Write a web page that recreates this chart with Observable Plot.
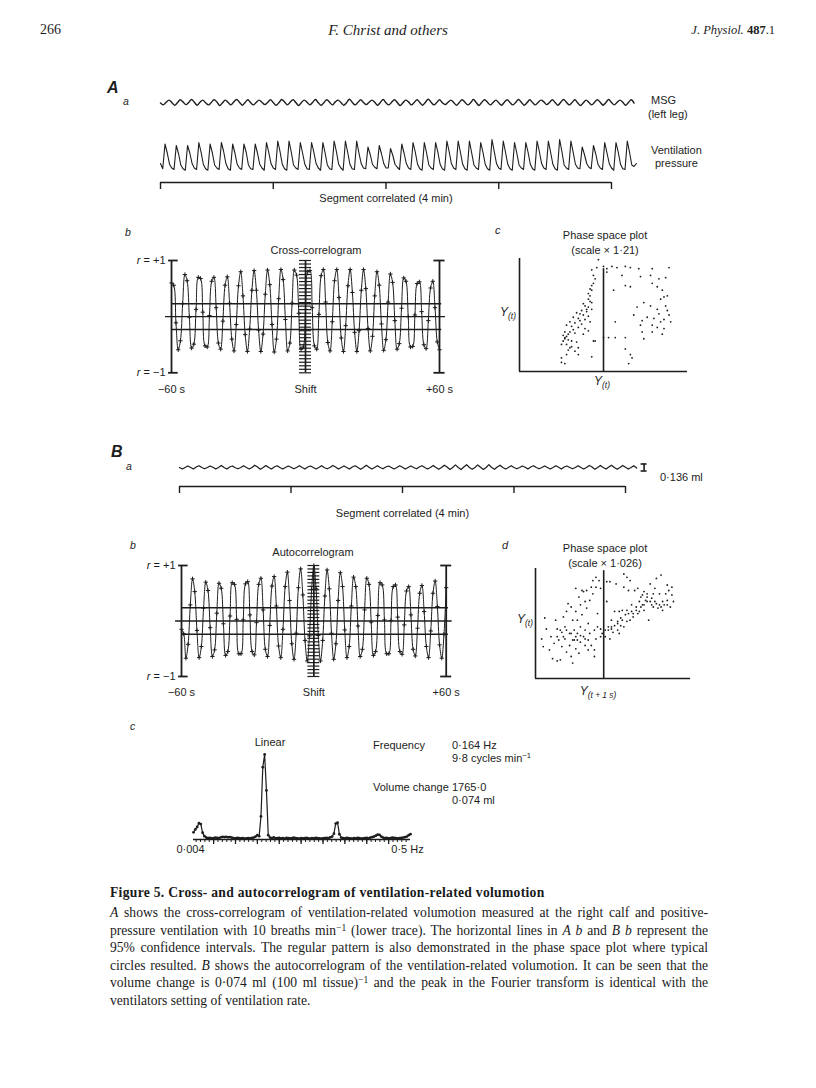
<!DOCTYPE html>
<html><head><meta charset="utf-8">
<script src="https://cdn.jsdelivr.net/npm/d3@7"></script>
<script src="https://cdn.jsdelivr.net/npm/@observablehq/plot@0.6"></script>
<style>
body{margin:0;background:#fff;}
#page{position:relative;width:816px;height:1088px;overflow:hidden;font-family:"Liberation Sans",Arial,sans-serif;color:#1d1d1d;background:#fff;}
.abs{position:absolute;white-space:nowrap;line-height:1;}
sub{font-size:0.7em;vertical-align:-0.3em;}
sup{font-size:0.7em;vertical-align:0.45em;}
.cap{position:absolute;left:110px;width:598px;font-family:"Liberation Serif","Times New Roman",serif;font-size:13.6px;line-height:1;white-space:nowrap;color:#1a1a1a;}
.just{text-align:justify;text-align-last:justify;}
</style></head><body><div id="page"></div>
<script>
// ---------------- DATA ----------------
// A a: MSG trace (arbitrary units), sampled every 1.5 s
const msgStep = 1.5;
const msgValues = [-0.2,
-0.8,0.1,0.8,0.0, -0.9,-0.1,0.9,0.2, -0.7,0.0,1.0,0.1, -0.9,0.1,0.8,-0.1, -0.8,0.0,0.9,0.2,
-1.0,-0.1,0.8,0.0, -0.8,0.2,1.0,0.1, -0.9,0.0,0.9,-0.1, -0.8,0.1,0.8,0.1, -0.7,0.0,0.9,0.0,
-0.9,-0.1,1.0,0.2, -0.8,0.1,0.9,0.0, -1.0,0.0,0.8,0.1, -0.8,0.1,1.0,-0.1, -0.9,0.0,0.9,0.1,
-0.8,0.2,0.8,0.0, -0.9,-0.1,1.1,0.1, -0.8,0.0,0.9,0.0, -0.7,0.1,0.8,0.1, -0.9,0.0,1.0,-0.1,
-0.8,0.1,0.9,0.0, -1.0,-0.1,0.8,0.2, -0.8,0.0,0.9,0.0, -0.9,0.1,1.1,0.1, -0.8,0.0,0.9,-0.1,
-0.7,0.1,0.8,0.0, -0.9,0.0,0.9,0.1, -0.8,-0.1,1.0,0.0, -1.0,0.1,0.9,0.1, -0.8,0.0,0.8,-0.1,
-0.9,0.1,0.9,0.0, -0.8,0.0,1.0,0.1, -0.9,-0.1,0.9,0.0, -0.8,0.1,0.8,0.2, -0.7,0.0,0.9,0.0,
-0.9,0.1,1.0,0.1, -0.8,0.0,0.9,-0.1, -1.0,-0.1,0.8,0.0, -0.8,0.1,0.9,0.1, -0.9,0.0,1.0,0.0,
-0.8,0.1,0.8,0.1, -0.9,0.0,0.9,-0.2];

// A a: ventilation pressure (arbitrary units), sampled every 1.2 s
const ventStep = 1.2;
const ventValues = [-0.4,
-0.75,0.9,0.3,-0.45,-0.7, -0.8,0.8,0.25,-0.5,-0.75, -0.85,0.8,0.3,-0.4,-0.7, -0.8,1.0,0.35,-0.45,-0.75,
-0.85,0.9,0.3,-0.5,-0.7, -0.8,1.0,0.4,-0.4,-0.75, -0.85,0.9,0.3,-0.45,-0.7, -0.8,0.9,0.35,-0.5,-0.75,
-0.8,0.9,0.3,-0.45,-0.7, -0.85,1.0,0.35,-0.4,-0.7, -0.8,1.1,0.4,-0.45,-0.75, -0.85,1.1,0.35,-0.5,-0.7,
-0.8,1.0,0.3,-0.45,-0.75, -0.8,1.0,0.35,-0.4,-0.7, -0.85,1.0,0.3,-0.5,-0.75, -0.8,1.1,0.4,-0.45,-0.7,
-0.85,1.1,0.35,-0.45,-0.75, -0.8,1.1,0.3,-0.4,-0.7, -0.75,0.7,0.2,-0.45,-0.65, -0.75,0.8,0.25,-0.4,-0.7,
-0.7,0.6,0.15,-0.45,-0.65, -0.8,0.9,0.3,-0.4,-0.7, -0.8,1.0,0.35,-0.45,-0.75, -0.85,1.0,0.3,-0.5,-0.7,
-0.8,1.0,0.35,-0.45,-0.75, -0.85,1.1,0.4,-0.4,-0.7, -0.8,1.1,0.35,-0.45,-0.75, -0.85,1.1,0.3,-0.5,-0.7,
-0.8,1.0,0.35,-0.45,-0.75, -0.85,1.2,0.4,-0.4,-0.7, -0.8,1.1,0.35,-0.45,-0.75, -0.85,1.0,0.3,-0.5,-0.7,
-0.8,1.0,0.35,-0.45,-0.75, -0.85,1.1,0.4,-0.4,-0.7, -0.8,1.1,0.35,-0.45,-0.75, -0.85,1.2,0.4,-0.5,-0.7,
-0.8,1.1,0.35,-0.45,-0.7, -0.75,0.7,0.2,-0.4,-0.65, -0.75,0.8,0.25,-0.45,-0.7, -0.8,1.0,0.3,-0.4,-0.7,
-0.85,1.0,0.35,-0.45,-0.75, -0.8,1.1,0.35,-0.5,-0.6, -0.4];

// Segment correlated (4 min) bracket ticks, seconds
const segTicks = [0, 60, 120, 180, 240];
const segLabel = "Segment correlated (4 min)";

// Correlograms: lag -60 … +60 s, 1 s apart
const lagMin = -60, lagMax = 60;
const crossCorr = [
 0.60, 0.56,-0.11,-0.59,-0.43, 0.23, 0.75, 0.64,-0.01,-0.56,
-0.49, 0.13, 0.70, 0.68, 0.08,-0.52,-0.54, 0.02, 0.63, 0.70,
 0.16,-0.47,-0.58,-0.08, 0.56, 0.71, 0.24,-0.40,-0.61,-0.14,
 0.55, 0.80, 0.37,-0.32,-0.62,-0.22, 0.47, 0.82, 0.47,-0.24,
-0.62,-0.31, 0.40, 0.83, 0.57,-0.14,-0.63,-0.40, 0.32, 0.84,
 0.66,-0.05,-0.61,-0.47, 0.24, 0.83, 0.74, 0.06,-0.58,-0.54,
 0.13, 0.80, 0.82, 0.16,-0.52,-0.58, 0.04, 0.73, 0.84, 0.26,
-0.46,-0.61,-0.09, 0.64, 0.84, 0.34,-0.38,-0.62,-0.16, 0.55,
 0.84, 0.43,-0.28,-0.62,-0.25, 0.47, 0.84, 0.50,-0.21,-0.61,
-0.35, 0.37, 0.80, 0.56,-0.13,-0.60,-0.41, 0.26, 0.76, 0.61,
-0.07,-0.58,-0.48, 0.15, 0.69, 0.63, 0.00,-0.54,-0.53, 0.03,
 0.59, 0.62, 0.09,-0.50,-0.57,-0.07, 0.51, 0.63, 0.16,-0.45,
-0.59];
const autoCorr = [
-0.15,-0.23,-0.67,-0.42, 0.29, 0.76, 0.53,-0.17,-0.66,-0.46,
 0.23, 0.70, 0.55,-0.12,-0.64,-0.52, 0.14, 0.68, 0.59,-0.05,
-0.62,-0.55, 0.09, 0.69, 0.66, 0.03,-0.59,-0.59, 0.02, 0.67,
 0.71, 0.11,-0.55,-0.61,-0.03, 0.66, 0.77, 0.20,-0.51,-0.64,
-0.08, 0.63, 0.80, 0.27,-0.45,-0.66,-0.15, 0.62, 0.88, 0.37,
-0.41,-0.69,-0.22, 0.60, 0.94, 0.47,-0.35,-0.72,-0.27, 0.57,
 1.00,
 0.58,-0.26,-0.72,-0.35, 0.45, 0.92, 0.58,-0.22,-0.69,-0.41,
 0.37, 0.87, 0.62,-0.16,-0.66,-0.46, 0.27, 0.79, 0.62,-0.09,
-0.64,-0.51, 0.20, 0.77, 0.66,-0.02,-0.62,-0.55, 0.10, 0.69,
 0.65, 0.02,-0.59,-0.59, 0.01, 0.62, 0.65, 0.07,-0.55,-0.60,
-0.07, 0.54, 0.62, 0.11,-0.51,-0.63,-0.13, 0.50, 0.64, 0.17,
-0.46,-0.66,-0.18, 0.50, 0.72, 0.26,-0.43,-0.67,-0.24, 0.60];
const ciCross = 0.23, ciAuto = 0.24;          // 95 % confidence limits
const rTicks = [-1, 1], rLabels = ["r = \u22121", "r = +1"];
const shiftTicks = [-60, 0, 60], shiftLabels = ["\u221260 s", "Shift", "+60 s"];
const ladderStep = 0.0625;

// A c: phase space plot (scale × 1·21)
const acX = [47,46,43,44,45,43,42,43,41,42, 41,42,43,39,41,43,37,40,34,36, 38,41,32,35,39,42,30,33,37,28,
 31,35,39,41,27,30,33,38,26,28, 27,29,31,34,25,28,31,35,29,33, 28,35,25,43,25,27,44,27,29,32, 36,40,38,44,30,26,
 50,52,55,58,63,66,71,79,89,52, 61,72,78,83,87,63,66,79,82,85, 56,88,86,74,78,87,88,70,68,83,
 89,73,80,84,90,57,72,79,82,86, 73,79,85,74,50,53,57,63,63,66, 65,67,45,84,82,86,76];
const acY = [99,92,90,85,82,76,73,72,69,67, 64,62,61,58,57,55,54,53,52,51, 50,49,48,47,46,44,44,43,42,41,
 40,39,38,36,35,35,34,33,32,31, 29,28,27,26,24,24,22,21,19,18, 15,15,12,13,8,7,27,30,33,37, 45,55,60,78,21,27,
 93,91,93,92,93,92,91,91,92,88, 85,84,85,82,83,76,75,78,75,72, 72,67,66,61,58,58,54,57,50,51,
 50,45,47,44,44,44,41,41,39,38, 35,35,33,29,30,30,30,30,20,15, 7,12,27,64,55,46,48];
const acMid = 50, acMidTop = 91;

// B a: volumotion trace (ml), sampled every 1.5 s
const baStep = 1.5;
const baValues = [0.0,
-0.03,0.00,0.03,0.00, -0.03,0.01,0.035,0.00, -0.025,0.00,0.03,0.005, -0.03,0.00,0.04,0.00, -0.03,0.01,0.03,-0.005,
-0.025,0.00,0.035,0.00, -0.03,0.00,0.045,0.01, -0.035,0.00,0.04,0.00, -0.03,0.01,0.035,0.00, -0.03,0.00,0.03,0.005,
-0.025,0.00,0.035,0.00, -0.03,0.01,0.03,0.00, -0.03,0.00,0.035,-0.005, -0.025,0.00,0.04,0.01, -0.03,0.00,0.03,0.00,
-0.03,0.01,0.035,0.00, -0.035,0.00,0.045,0.005, -0.03,0.00,0.035,0.00, -0.025,0.01,0.03,0.00, -0.03,0.00,0.035,0.005,
-0.03,0.00,0.03,0.00, -0.025,0.01,0.035,0.00, -0.03,0.00,0.04,0.00, -0.035,0.00,0.045,0.01, -0.04,0.00,0.05,0.00,
-0.04,0.01,0.055,0.00, -0.035,0.00,0.05,0.005, -0.04,0.00,0.055,0.00, -0.035,0.01,0.045,0.00, -0.03,0.00,0.035,0.00,
-0.025,0.00,0.03,0.005, -0.03,0.01,0.035,0.00, -0.025,0.00,0.03,0.00, -0.03,0.00,0.035,0.005, -0.03,0.01,0.03,0.00,
-0.025,0.00,0.035,0.00, -0.03,0.00,0.04,0.01, -0.035,0.00,0.04,0.00, -0.03,0.01,0.045,0.00, -0.035,0.00,0.04,0.005,
-0.03,0.00,0.035,-0.01];
const scaleBarMl = 0.136, scaleBarTime = 250;

// B d: phase space plot (scale × 1·026)
const bdX = [4,5,6,7,9,10,11,13,14,14, 15,16,17,17,18,19,19,20,20,21, 22,22,23,23,24,24,25,25,26,26,
 26,27,27,28,28,29,29,29,30,30, 31,31,32,32,32,33,33,34,34,35, 35,36,36,37,37,38,38,39,39,39,
 40,40,41,42,42,42,43,38,34,32, 29,27,26,24,23,20,18,16,14,12,
 45,45,46,46,47,47,48,48,49,49, 50,51,51,52,53,53,54,54,55,55, 56,57,57,57,58,59,59,60,60,61,
 61,62,62,63,64,65,65,66,66,67, 68,68,69,69,70,70,71,72,72,72, 73,74,74,75,75,76,76,77,78,78,
 79,80,80,81,81,82,82,83,84,85, 85,86,87,88,88,89,85,77,70,67, 63,59,56,53,49];
const bdY = [36,29,55,45,26,38,18,53,45,16, 35,17,42,29,56,47,36,61,24,68, 41,30,20,65,14,53,44,35,61,82,
 27,53,41,74,23,67,47,33,80,58, 38,79,30,70,44,80,64,35,50,71, 41,83,30,89,77,20,44,36,92,83,
 59,47,89,82,38,45,41,26,26,36, 39,35,38,35,41,44,38,44,38,32,
 44,38,70,88,47,44,36,88,45,53, 42,61,48,86,44,52,61,41,55,48, 62,95,83,47,58,92,52,80,59,89,
 53,61,67,56,80,62,65,59,82,70, 65,74,67,76,62,79,71,70,77,74, 53,86,70,67,73,65,77,70,68,91,
 64,67,77,94,65,62,70,67,77,67, 71,80,65,76,83,70,85,82,67,61, 59,62,53,50,47];
const bdMid = 44, bdMidTop = 98;

// B c: linear Fourier spectrum, 0·004 … 0·5 Hz
const specF0 = 0.004, specF1 = 0.5, specStep = 0.004168;
const specPeak = 1765;
const specAmp = [150,210,260,340,320,140,70,40,30,35, 25,30,40,35,30,45,55,50,55,45,
 50,40,30,25,35,30,25,30,20,25, 30,25,35,40,60,90,70,480,1500,1765, 1020,90,40,30,45,25,30,35,25,30,
 20,35,30,25,30,40,30,25,20,30, 25,30,35,25,20,30,25,35,30,25, 20,25,30,35,30,45,60,120,330,350,
 110,40,30,25,35,30,25,20,30,25, 35,30,20,25,30,35,25,40,50,60, 80,100,95,60,40,30,35,25,30,40,
 35,30,25,30,35,40,50,60,90,110];
const specMinorStep = 0.01, specMajorStep = 0.05;
const specLabelTicks = [0.004, 0.5], specLabels = ["0\u00b7004", "0\u00b75 Hz"];

// ---------------- DRAWING ----------------
const ink = "#1d1d1d";
const page = document.getElementById("page");
const plotStyle = {fontFamily: '"Liberation Sans", Arial, sans-serif', fontSize: "11px", color: ink, background: "transparent", overflow: "visible"};
const svgNS = "http://www.w3.org/2000/svg";

function place(svg, left, top) {
  svg.style.position = "absolute"; svg.style.left = left + "px"; svg.style.top = top + "px";
  page.appendChild(svg);
  return svg;
}
function label(html, x, y, size = 11, anchor = "start", extra = "") {
  const d = document.createElement("div");
  d.className = "abs";
  d.innerHTML = html;
  const tx = anchor === "middle" ? "-50%" : anchor === "end" ? "-100%" : "0";
  d.style.cssText = `left:${x}px;top:${y}px;font-size:${size}px;transform:translate(${tx},-50%);${extra}`;
  page.appendChild(d);
  return d;
}
// italicise the variable "r" in the correlogram tick labels
function italicR(svg) {
  svg.querySelectorAll("text").forEach(t => {
    const s = t.textContent;
    if (s.startsWith("r =")) {
      t.textContent = "";
      const a = document.createElementNS(svgNS, "tspan"); a.setAttribute("font-style", "italic"); a.textContent = "r";
      const b = document.createElementNS(svgNS, "tspan"); b.textContent = s.slice(1);
      t.append(a, b);
    }
  });
  return svg;
}
const segDomain = [segTicks[0], segTicks[segTicks.length - 1]];
function bracket(ml, mr, dy) {
  return Plot.plot({
    width: 620, height: 50, marginLeft: ml, marginRight: mr, marginTop: 0, marginBottom: 38, style: plotStyle,
    x: {domain: segDomain, axis: null}, y: {domain: [0, 1], axis: null},
    marks: [
      Plot.ruleY([0], {x1: segDomain[0], x2: segDomain[1], stroke: ink, strokeWidth: 1.4}),
      Plot.axisX({ticks: segTicks, tickSize: 7, tickFormat: () => "", label: null, strokeWidth: 1.4}),
      Plot.text([segLabel], {frameAnchor: "bottom", dy, fontSize: 11, fill: ink})
    ]
  });
}

// Header
label("266", 40, 30, 14, "start", "font-family:'Liberation Serif',serif;");
label("F. Christ and others", 388, 30, 15, "middle", "font-family:'Liberation Serif',serif;font-style:italic;");
label("<i>J. Physiol.</i> <b>487</b>.1", 775, 30, 12.5, "end", "font-family:'Liberation Serif',serif;");

// Panel A
label("A", 107, 88, 16, "start", "font-style:italic;font-weight:bold;");
label("a", 123, 101, 10.5, "start", "font-style:italic;");

place(Plot.plot({
  width: 620, height: 30, marginLeft: 60, marginRight: 109, marginTop: 12, marginBottom: 12, style: plotStyle,
  x: {domain: segDomain, axis: null}, y: {domain: [-1, 1], axis: null},
  marks: [Plot.line(msgValues, {x: (d, i) => i * msgStep, y: d => d, stroke: ink, strokeWidth: 1.4, curve: "catmull-rom"})]
}), 100, 87);
label("MSG", 651, 100, 11);
label("(left leg)", 648, 114, 11);

place(Plot.plot({
  width: 620, height: 55, marginLeft: 60, marginRight: 109, marginTop: 12, marginBottom: 13, style: plotStyle,
  x: {domain: segDomain, axis: null}, y: {domain: [-1, 1], axis: null},
  marks: [Plot.line(ventValues, {x: (d, i) => i * ventStep, y: d => d, stroke: ink, strokeWidth: 1.1})]
}), 100, 130);
label("Ventilation", 651, 150, 11);
label("pressure", 655, 163, 11);

place(bracket(60, 109, 19), 100, 170);

// Correlogram builder
function correlogram(vals, ci, W, H, ml, mr, mt, mb) {
  const ladder = d3.range(-1, 1 + 1e-9, ladderStep);
  return italicR(Plot.plot({
    width: W, height: H, marginLeft: ml, marginRight: mr, marginTop: mt, marginBottom: mb, style: plotStyle,
    x: {domain: [lagMin, lagMax], axis: null}, y: {domain: [-1, 1], axis: null},
    marks: [
      Plot.ruleY([0], {x1: lagMin - 2.7, x2: lagMax + 2.7, stroke: ink, strokeWidth: 1.4}),
      Plot.ruleY([ci, -ci], {x1: lagMin, x2: lagMax + 1, stroke: ink, strokeWidth: 1.4}),
      Plot.ruleX([lagMin, lagMax], {y1: -1, y2: 1, stroke: ink, strokeWidth: 1.8}),
      Plot.ruleY(rTicks, {x1: lagMin - 1.3, x2: lagMin + 3, stroke: ink, strokeWidth: 1.8}),
      Plot.ruleY(rTicks, {x1: lagMax - 2.5, x2: lagMax + 2.5, stroke: ink, strokeWidth: 1.8}),
      Plot.ruleX([0], {y1: -1, y2: 1, stroke: ink, strokeWidth: 1.7}),
      Plot.ruleY(ladder, {x1: -2.7, x2: 2.7, stroke: ink, strokeWidth: 1.2}),
      Plot.line(vals, {x: (d, i) => lagMin + i, y: d => d, stroke: ink, strokeWidth: 1, curve: "catmull-rom"}),
      Plot.dot(vals, {x: (d, i) => lagMin + i, y: d => d, symbol: "plus", r: 1.5, stroke: ink, strokeWidth: 1}),
      Plot.axisY({ticks: rTicks, tickFormat: d => rLabels[rTicks.indexOf(d)], tickSize: 0, tickPadding: 6, label: null}),
      Plot.axisX({ticks: shiftTicks, tickFormat: d => shiftLabels[shiftTicks.indexOf(d)], tickSize: 0, tickPadding: 12, label: null})
    ]
  }));
}

label("b", 125, 232, 10.5, "start", "font-style:italic;");
label("Cross-correlogram", 316, 250, 11, "middle");
place(correlogram(crossCorr, ciCross, 340, 160, 51, 21, 20, 27.7), 120, 240);

function phasePlot(xs, ys, mid, midTop, W, H, ml, mr, mt, mb) {
  return Plot.plot({
    width: W, height: H, marginLeft: ml, marginRight: mr, marginTop: mt, marginBottom: mb, style: plotStyle,
    x: {domain: [0, 100], axis: null}, y: {domain: [0, 100], axis: null},
    marks: [
      Plot.ruleX([0], {y1: 0, y2: 100, stroke: ink, strokeWidth: 1.6}),
      Plot.ruleY([0], {x1: 0, x2: 100, stroke: ink, strokeWidth: 1.6}),
      Plot.ruleX([mid], {y1: 0, y2: midTop, stroke: ink, strokeWidth: 1.6}),
      Plot.dot(xs, {x: d => d, y: (d, i) => ys[i], r: 0.9, fill: ink, stroke: null})
    ]
  });
}
label("c", 495, 230, 11, "start", "font-style:italic;");
label("Phase space plot", 605, 235, 11, "middle");
label("(scale \u00d7 1\u00b721)", 605, 250, 11, "middle");
place(phasePlot(acX, acY, acMid, acMidTop, 230, 145, 39, 23, 13, 19), 480, 245);
label("Y<sub>(t)</sub>", 500, 313, 12, "start", "font-style:italic;");
label("Y<sub>(t)</sub>", 602, 382, 12, "middle", "font-style:italic;");

// Panel B
label("B", 111, 452, 16, "start", "font-style:italic;font-weight:bold;");
label("a", 126, 466, 10.5, "start", "font-style:italic;");
place(Plot.plot({
  width: 620, height: 30, marginLeft: 79, marginRight: 95, marginTop: 9.85, marginBottom: 9.85, style: plotStyle,
  x: {domain: segDomain, axis: null}, y: {domain: [-0.1, 0.1], axis: null},
  marks: [
    Plot.line(baValues, {x: (d, i) => i * baStep, y: d => d, stroke: ink, strokeWidth: 1.2}),
    Plot.ruleX([scaleBarTime], {y1: -scaleBarMl / 2, y2: scaleBarMl / 2, stroke: ink, strokeWidth: 1.6}),
    Plot.ruleY([-scaleBarMl / 2, scaleBarMl / 2], {x1: scaleBarTime - 1.6, x2: scaleBarTime + 1.6, stroke: ink, strokeWidth: 1.6})
  ]
}), 100, 452);
label("0\u00b7136 ml", 660, 477, 11);
place(bracket(79, 95, 30), 100, 474);

label("b", 130, 545, 10.5, "start", "font-style:italic;");
label("Autocorrelogram", 313, 552, 11, "middle");
place(correlogram(autoCorr, ciAuto, 340, 170, 51, 24.3, 25, 34), 130, 540);

label("d", 502, 545, 11, "start", "font-style:italic;");
label("Phase space plot", 605, 548, 11, "middle");
label("(scale \u00d7 1\u00b7026)", 605, 563, 11, "middle");
place(phasePlot(bdX, bdY, bdMid, bdMidTop, 220, 130, 45, 20, 13, 7), 490, 555);
label("Y<sub>(t)</sub>", 517, 620, 12, "start", "font-style:italic;");
label("Y<sub>(t + 1 s)</sub>", 598, 692, 12, "middle", "font-style:italic;");

// B c spectrum
label("c", 130, 726, 10.5, "start", "font-style:italic;");
label("Linear", 270, 742, 11, "middle");
const specFreq = specAmp.map((d, k) => specF0 + k * specStep);
place(Plot.plot({
  width: 270, height: 130, marginLeft: 23, marginRight: 30, marginTop: 24, marginBottom: 21, style: plotStyle,
  x: {domain: [specF0, specF1], axis: null}, y: {domain: [0, specPeak], axis: null},
  marks: [
    Plot.ruleY([0], {x1: specF0, x2: specF1, stroke: ink, strokeWidth: 1.6}),
    Plot.axisX({ticks: d3.range(specMinorStep, specF1, specMinorStep), tickSize: 3, tickFormat: () => "", label: null}),
    Plot.axisX({ticks: d3.range(specMajorStep, specF1, specMajorStep), tickSize: 5, tickFormat: () => "", label: null, strokeWidth: 1.3}),
    Plot.axisX({ticks: specLabelTicks, tickSize: 0, tickPadding: 6, dx: -3, tickFormat: d => specLabels[specLabelTicks.indexOf(d)], label: null}),
    Plot.line(specAmp, {x: (d, k) => specFreq[k], y: d => d, stroke: ink, strokeWidth: 1.2}),
    Plot.dot(specAmp, {x: (d, k) => specFreq[k], y: d => d, r: 1.4, fill: ink, stroke: null})
  ]
}), 170, 730);
label("Frequency", 373, 745, 11);
label("0\u00b7164 Hz", 452, 745, 11);
label("9\u00b78 cycles min<sup>\u22121</sup>", 452, 758, 11);
label("Volume change", 373, 787, 11);
label("1765\u00b70", 452, 787, 11);
label("0\u00b7074 ml", 452, 800, 11);

// Caption
const capTop = 886, capLH = 17.6;
const capTitle = "Figure 5. Cross- and autocorrelogram of ventilation-related volumotion";
const capLines = [
  "<i>A</i> shows the cross-correlogram of ventilation-related volumotion measured at the right calf and positive-",
  "pressure ventilation with 10 breaths min<sup>\u22121</sup> (lower trace). The horizontal lines in <i>A b</i> and <i>B b</i> represent the",
  "95% confidence intervals. The regular pattern is also demonstrated in the phase space plot where typical",
  "circles resulted. <i>B</i> shows the autocorrelogram of the ventilation-related volumotion. It can be seen that the",
  "volume change is 0\u00b7074 ml (100 ml tissue)<sup>\u22121</sup> and the peak in the Fourier transform is identical with the",
  "ventilators setting of ventilation rate."
];
const t = document.createElement("div");
t.className = "cap"; t.style.top = capTop + "px"; t.style.fontWeight = "bold"; t.style.letterSpacing = "0.3px";
t.textContent = capTitle;
page.appendChild(t);
capLines.forEach((s, i) => {
  const d = document.createElement("div");
  d.className = "cap" + (i < capLines.length - 1 ? " just" : "");
  d.style.top = (capTop + 20 + i * capLH) + "px";
  d.innerHTML = s;
  page.appendChild(d);
});
</script></body></html>
